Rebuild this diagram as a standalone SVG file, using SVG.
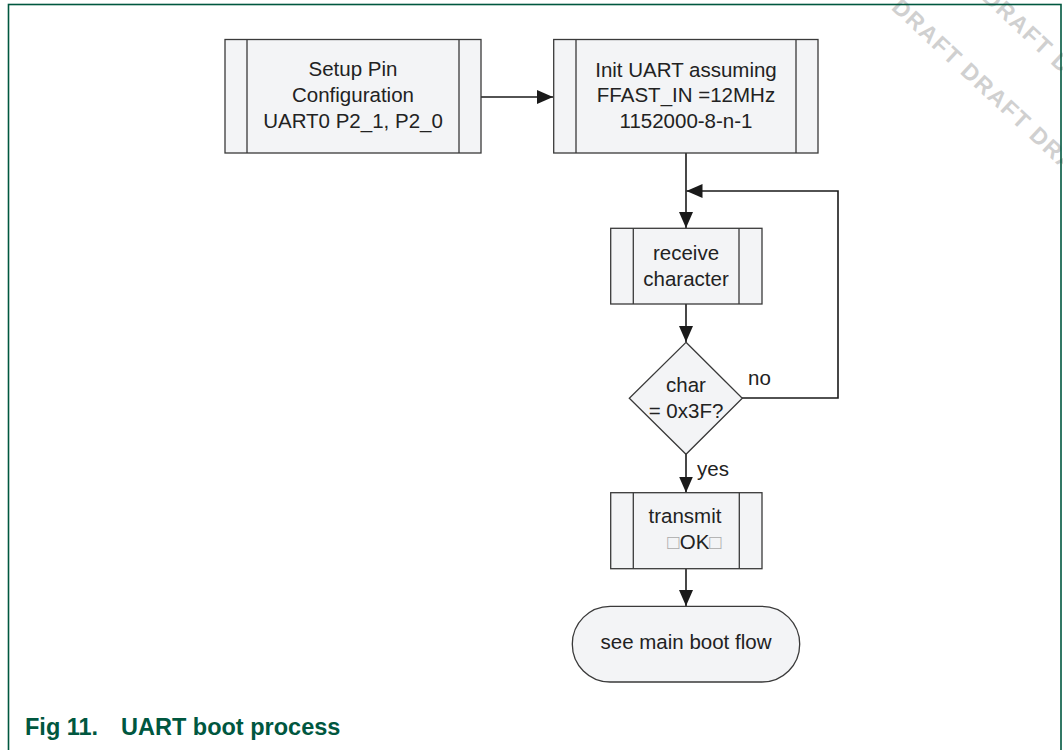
<svg xmlns="http://www.w3.org/2000/svg" width="1063" height="750" viewBox="0 0 1063 750">
  <style>
    .node { fill: #F3F4F6; stroke: #3a3a3a; stroke-width: 1.3; }
    .inner { stroke: #3a3a3a; stroke-width: 1.3; fill: none; }
    .lbl { font-family: "Liberation Sans", Arial, sans-serif; font-size: 20.5px; fill: #222; text-anchor: middle; }
    .side { font-family: "Liberation Sans", Arial, sans-serif; font-size: 20.5px; fill: #222; }
    .conn { stroke: #1a1a1a; stroke-width: 1.6; fill: none; }
    .wm { font-family: "Liberation Sans", Arial, sans-serif; font-size: 23px; font-weight: bold; fill: #d0d0d0; letter-spacing: 1.6px; }
    .cap { font-family: "Liberation Sans", Arial, sans-serif; font-size: 23.5px; font-weight: bold; fill: #00573F; }
  </style>
  <defs>
    <marker id="arr" markerUnits="userSpaceOnUse" markerWidth="16" markerHeight="14" refX="16" refY="7" orient="auto">
      <path d="M0,0 L16,7 L0,14 Z" fill="#1a1a1a"/>
    </marker>
  </defs>
  <rect width="1063" height="750" fill="#ffffff"/>
  <g id="watermark">
    <text class="wm" transform="translate(890.6,8.7) rotate(43)">DRAFT DRAFT DRAFT</text>
    <text class="wm" transform="translate(981.1,-1.3) rotate(43)">DRAFT DRAFT</text>
  </g>
  <rect id="frame" x="8.5" y="4.5" width="1052.5" height="770" fill="none" stroke="#00573F" stroke-width="1.6"/>

  <g id="connectors">
    <path class="conn" d="M481,97 H553" marker-end="url(#arr)"/>
    <path class="conn" d="M686,153 V228" marker-end="url(#arr)"/>
    <path class="conn" d="M686,304 V342" marker-end="url(#arr)"/>
    <path class="conn" d="M686,454 V492.5" marker-end="url(#arr)"/>
    <path class="conn" d="M686,569 V606" marker-end="url(#arr)"/>
    <path class="conn" d="M742,398 H838 V191 H686.5" marker-end="url(#arr)"/>
    <text class="side" x="748" y="385">no</text>
    <text class="side" x="697" y="476">yes</text>
  </g>

  <g id="setup">
    <rect class="node" x="225" y="39.5" width="256" height="113.5"/>
    <path class="inner" d="M247,39.5 V153 M459,39.5 V153"/>
    <text class="lbl" x="353" y="76">Setup Pin</text>
    <text class="lbl" x="353" y="101.7">Configuration</text>
    <text class="lbl" x="353" y="127.7">UART0 P2_1, P2_0</text>
  </g>

  <g id="init">
    <rect class="node" x="553.7" y="39.5" width="264.3" height="113.5"/>
    <path class="inner" d="M576,39.5 V153 M796,39.5 V153"/>
    <text class="lbl" x="686" y="76.7">Init UART assuming</text>
    <text class="lbl" x="686" y="101.7">FFAST_IN =12MHz</text>
    <text class="lbl" x="686" y="127.7">1152000-8-n-1</text>
  </g>

  <g id="receive">
    <rect class="node" x="610.7" y="228.3" width="151.3" height="75.7"/>
    <path class="inner" d="M633.3,228.3 V304 M739,228.3 V304"/>
    <text class="lbl" x="686" y="260">receive</text>
    <text class="lbl" x="686" y="286">character</text>
  </g>

  <g id="decision">
    <polygon class="node" points="686,342.3 742.3,398.3 686,454.3 629.3,398.3"/>
    <text class="lbl" x="686" y="392">char</text>
    <text class="lbl" x="686" y="418">= 0x3F?</text>
  </g>

  <g id="transmit">
    <rect class="node" x="610.7" y="492.7" width="151.3" height="76"/>
    <path class="inner" d="M633.3,492.7 V568.7 M739.3,492.7 V568.7"/>
    <text class="lbl" x="685" y="523.3">transmit</text>
    <text class="lbl" x="694.5" y="549.3"><tspan fill="#aaaaaa">□</tspan>OK<tspan fill="#aaaaaa">□</tspan></text>
  </g>

  <g id="end">
    <rect class="node" x="572.3" y="606.3" width="227.4" height="75.7" rx="37.8" ry="37.8"/>
    <text class="lbl" x="686" y="649.3">see main boot flow</text>
  </g>

  <g id="caption">
    <text class="cap" x="25" y="735">Fig 11.</text>
    <text class="cap" x="121" y="735">UART boot process</text>
  </g>
</svg>
